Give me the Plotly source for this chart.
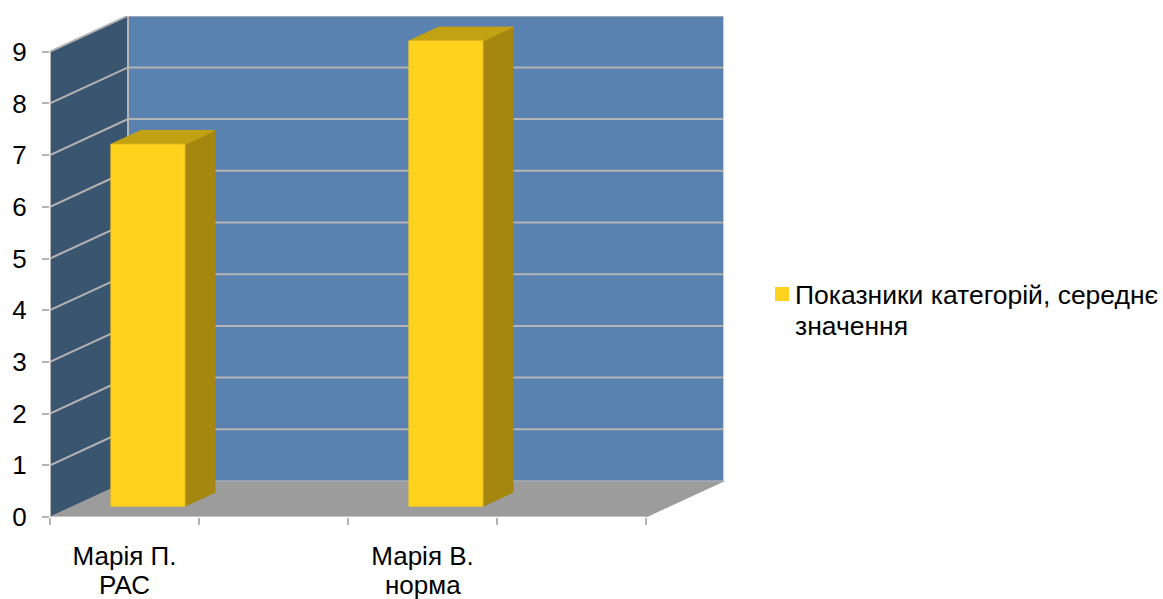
import plotly.graph_objects as go

# Chart data
category_line1 = ["Марія П.", "", "Марія В.", ""]
category_line2 = ["РАС", "", "норма", ""]
values = [7, None, 9, None]
y_ticks = [0, 1, 2, 3, 4, 5, 6, 7, 8, 9]
legend_lines = ["Показники категорій, середнє", "значення"]

# Canvas and plot frame, in pixels
WIDTH, HEIGHT = 1163, 599
LEFT, RIGHT, TOP, BOTTOM = 50, 724, 16, 517
PX_PER_SLOT = 149.0
PX_PER_UNIT = 51.7

# Oblique projection of the box: how far the back plane sits from the front one
DEPTH_X = 78 / PX_PER_SLOT
DEPTH_Y = 36 / PX_PER_UNIT
BAR_NEAR, BAR_FAR = 0.30, 0.685
BAR_HALF = 37 / PX_PER_SLOT

FONT = "Liberation Sans"
FONT_SIZE = 26
LEGEND_SIZE = 26.5
GRID = "#B4B4B4"
BACK_WALL = "#5982B0"
SIDE_WALL = "#3A556F"
FLOOR = "#9C9C9C"
BAR_FRONT = "#FFD21E"
BAR_TOP = "#C2A213"
BAR_SIDE = "#A5860F"

n = len(values)
fig = go.Figure()


def project(x, y, depth):
    return x + DEPTH_X * depth, y + DEPTH_Y * depth


def face(points, fill, line=None, width=1):
    xs = [p[0] for p in points] + [points[0][0]]
    ys = [p[1] for p in points] + [points[0][1]]
    fig.add_trace(go.Scatter(
        x=xs, y=ys, mode="lines", fill="toself", fillcolor=fill,
        line=dict(color=line or fill, width=width),
        hoverinfo="skip", showlegend=False, cliponaxis=False,
    ))


def edge(points, color=GRID, width=2):
    fig.add_trace(go.Scatter(
        x=[p[0] for p in points], y=[p[1] for p in points], mode="lines",
        line=dict(color=color, width=width),
        hoverinfo="skip", showlegend=False, cliponaxis=False,
    ))


top_value = max(y_ticks)

# Walls and floor of the box
face([project(0, 0, 1), project(n, 0, 1), project(n, top_value, 1), project(0, top_value, 1)], BACK_WALL)
face([(0, 0), project(0, 0, 1), project(0, top_value, 1), (0, top_value)], SIDE_WALL)
face([(0, 0), (n, 0), project(n, 0, 1), project(0, 0, 1)], FLOOR)

# Gridlines run across the side wall and then along the back wall
for tick in y_ticks[1:]:
    edge([(0, tick), project(0, tick, 1), project(n, tick, 1)])

# Box outline
edge([project(0, 0, 1), project(0, top_value, 1)])
edge([project(n, 0, 1), project(n, top_value, 1)], "#D0D0D0")
edge([(0, 0), (0, top_value)])
edge([project(0, 0, 1), project(n, 0, 1)], "#A9B4C0", 1)
edge([(0, 0), (n, 0)], "#C4C4C4")

# Bars: side, top and front faces projected from each value
for i, value in enumerate(values):
    if value is None:
        continue
    centre = i + 0.5
    x0, x1 = centre - BAR_HALF, centre + BAR_HALF
    near0 = project(x0, 0, BAR_NEAR)
    near1 = project(x1, 0, BAR_NEAR)
    far1 = project(x1, 0, BAR_FAR)
    far0 = project(x0, 0, BAR_FAR)
    face([near1, far1, (far1[0], far1[1] + value), (near1[0], near1[1] + value)], BAR_SIDE)
    face([(near0[0], near0[1] + value), (near1[0], near1[1] + value),
          (far1[0], far1[1] + value), (far0[0], far0[1] + value)], BAR_TOP)
    face([near0, near1, (near1[0], near1[1] + value), (near0[0], near0[1] + value)],
         BAR_FRONT, "#F0C81E")

fig.update_layout(
    width=WIDTH, height=HEIGHT,
    margin=dict(l=LEFT, r=WIDTH - RIGHT, t=TOP, b=HEIGHT - BOTTOM, pad=0, autoexpand=False),
    paper_bgcolor="white", plot_bgcolor="white",
    font=dict(family=FONT, size=FONT_SIZE, color="black"),
    showlegend=False,
    xaxis=dict(
        range=[0, (RIGHT - LEFT) / PX_PER_SLOT],
        tickmode="array",
        tickvals=[i + 0.5 for i, c in enumerate(category_line1) if c],
        ticktext=[c for c in category_line1 if c],
        ticks="", showgrid=False, zeroline=False, showline=False,
        automargin=False, ticklabelstandoff=21,
        tickfont=dict(family=FONT, size=FONT_SIZE, color="black"),
        minor=dict(tickmode="array", tickvals=list(range(n + 1)), ticks="outside",
                   ticklen=7, tickwidth=2, tickcolor=GRID, showgrid=False),
    ),
    yaxis=dict(
        range=[0, (BOTTOM - TOP) / PX_PER_UNIT],
        tickmode="array", tickvals=y_ticks, ticktext=[str(t) for t in y_ticks],
        ticks="outside", ticklen=7, tickwidth=2, tickcolor=GRID,
        showgrid=False, zeroline=False, showline=False,
        automargin=False, ticklabelstandoff=10,
        tickfont=dict(family=FONT, size=FONT_SIZE, color="black"),
    ),
)

# Second line of each category label
for i, label in enumerate(category_line2):
    if label:
        fig.add_annotation(
            x=i + 0.5, y=0, xref="x", yref="y", text=label, showarrow=False,
            xanchor="center", yanchor="middle", yshift=-68,
            font=dict(family=FONT, size=FONT_SIZE, color="black"),
        )


def paper_x(px):
    return (px - LEFT) / (RIGHT - LEFT)


def paper_y(px):
    return (BOTTOM - px) / (BOTTOM - TOP)


# Legend: swatch and two text lines
fig.add_shape(type="rect", xref="paper", yref="paper",
              x0=paper_x(775), x1=paper_x(789), y0=paper_y(301), y1=paper_y(287),
              fillcolor=BAR_FRONT, line=dict(width=0))
for line_text, centre_y in zip(legend_lines, [295, 326]):
    fig.add_annotation(
        x=paper_x(794), y=paper_y(centre_y), xref="paper", yref="paper",
        text=line_text, showarrow=False, xanchor="left", yanchor="middle", xshift=-1,
        font=dict(family=FONT, size=LEGEND_SIZE, color="black"),
    )

fig.write_html("out.html")
